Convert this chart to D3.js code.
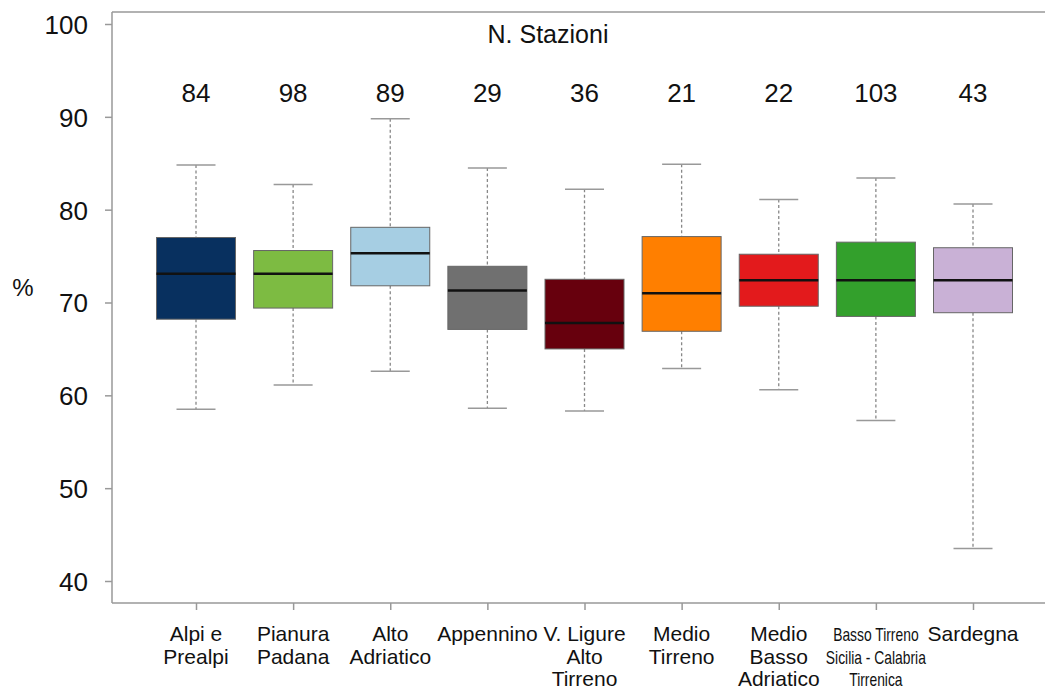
<!DOCTYPE html>
<html><head><meta charset="utf-8">
<script src="https://cdn.jsdelivr.net/npm/d3@7"></script>
<style>body{margin:0;background:#fff}svg{display:block}text{font-family:"Liberation Sans",Arial,sans-serif;fill:#111}</style>
</head><body><svg id="c" width="1045" height="695"></svg>
<script>
const categories = [["Alpi e","Prealpi"],["Pianura","Padana"],["Alto","Adriatico"],["Appennino"],["V. Ligure","Alto","Tirreno"],["Medio","Tirreno"],["Medio","Basso","Adriatico"],["Basso Tirreno","Sicilia -  Calabria","Tirrenica"],["Sardegna"]];
const stations = [84, 98, 89, 29, 36, 21, 22, 103, 43];
const whiskerLow  = [58.5, 61.1, 62.6, 58.6, 58.3, 62.9, 60.6, 57.3, 43.5];
const q1          = [68.2, 69.4, 71.8, 67.1, 65.0, 66.9, 69.6, 68.5, 68.9];
const median      = [73.1, 73.1, 75.3, 71.3, 67.8, 71.0, 72.4, 72.4, 72.4];
const q3          = [77.0, 75.6, 78.1, 73.9, 72.5, 77.1, 75.2, 76.5, 75.9];
const whiskerHigh = [84.8, 82.7, 89.8, 84.5, 82.2, 84.9, 81.1, 83.4, 80.6];
const colors = ["#08305f","#7dbb42","#a6cee3","#707070","#67000d","#ff7f00","#e31a1c","#33a02c","#c9b1d6"];
const yTicks = [40, 50, 60, 70, 80, 90, 100];

(function(){
const svg = d3.select("#c");
const mL = 112, mT = 12, mB = 603, mR = 1045;
const keys = categories.map((c,i)=>"c"+i);
const x = d3.scalePoint().domain(keys).range([196, 973]);
const y = d3.scaleLinear().domain([40, 100]).range([581, 24]);
const boxW = 79, capW = 39;

// frame
svg.append("line").attr("x1",mL).attr("x2",mR).attr("y1",mT).attr("y2",mT).attr("stroke","#999").attr("stroke-width",1.5);
svg.append("line").attr("x1",mL).attr("x2",mL).attr("y1",mT).attr("y2",mB).attr("stroke","#999").attr("stroke-width",1.5);

// y axis
const ya = svg.append("g").attr("transform",`translate(${mL},0)`)
  .call(d3.axisLeft(y).tickValues(yTicks).tickSize(7).tickPadding(17).tickFormat(d3.format("d")));
ya.select(".domain").remove();
ya.selectAll(".tick line").attr("stroke","#999").attr("stroke-width",1.5);
ya.selectAll(".tick text").attr("font-size",26).attr("fill","#111").attr("font-family","Liberation Sans, Arial, sans-serif").attr("dy","0.36em");

// x axis
const xa = svg.append("g").attr("transform",`translate(0,${mB})`)
  .call(d3.axisBottom(x).tickSize(7).tickFormat(""));
xa.select(".domain").attr("d",`M${mL},0H${mR}`).attr("stroke","#999").attr("stroke-width",1.5);
xa.selectAll(".tick line").attr("stroke","#999").attr("stroke-width",1.5);

// x labels
categories.forEach((lines,i)=>{
  const cx = x(keys[i]);
  const narrow = lines[0] === "Basso Tirreno";
  lines.forEach((ln,j)=>{
    const yy = 641 + j*22.5;
    const t = svg.append("text").attr("text-anchor","middle").text(ln);
    if (narrow) t.attr("font-size",18).attr("transform",`translate(${cx},${yy}) scale(0.77,1)`);
    else t.attr("font-size",21).attr("x",cx).attr("y",yy);
  });
});

// y label
svg.append("text").attr("x",23).attr("y",296).attr("text-anchor","middle").attr("font-size",24).text("%");

// title and counts
svg.append("text").attr("x",548).attr("y",43).attr("text-anchor","middle").attr("font-size",25).text("N. Stazioni");
svg.selectAll("text.cnt").data(stations).join("text").attr("class","cnt")
  .attr("x",(d,i)=>x(keys[i])).attr("y",102).attr("text-anchor","middle").attr("font-size",26).text(d=>d);

// boxes
const g = svg.append("g");
keys.forEach((k,i)=>{
  const cx = x(k);
  const dash = "3,2.5";
  g.append("line").attr("x1",cx).attr("x2",cx).attr("y1",y(whiskerHigh[i])).attr("y2",y(q3[i])).attr("stroke","#888").attr("stroke-width",1.3).attr("stroke-dasharray",dash);
  g.append("line").attr("x1",cx).attr("x2",cx).attr("y1",y(q1[i])).attr("y2",y(whiskerLow[i])).attr("stroke","#888").attr("stroke-width",1.3).attr("stroke-dasharray",dash);
  g.append("line").attr("x1",cx-capW/2).attr("x2",cx+capW/2).attr("y1",y(whiskerHigh[i])).attr("y2",y(whiskerHigh[i])).attr("stroke","#999").attr("stroke-width",1.5);
  g.append("line").attr("x1",cx-capW/2).attr("x2",cx+capW/2).attr("y1",y(whiskerLow[i])).attr("y2",y(whiskerLow[i])).attr("stroke","#999").attr("stroke-width",1.5);
  g.append("rect").attr("x",cx-boxW/2).attr("width",boxW).attr("y",y(q3[i])).attr("height",y(q1[i])-y(q3[i]))
    .attr("fill",colors[i]).attr("stroke","#666").attr("stroke-width",1);
  g.append("line").attr("x1",cx-boxW/2).attr("x2",cx+boxW/2).attr("y1",y(median[i])).attr("y2",y(median[i])).attr("stroke","#111").attr("stroke-width",2.5);
});
})();
</script></body></html>
